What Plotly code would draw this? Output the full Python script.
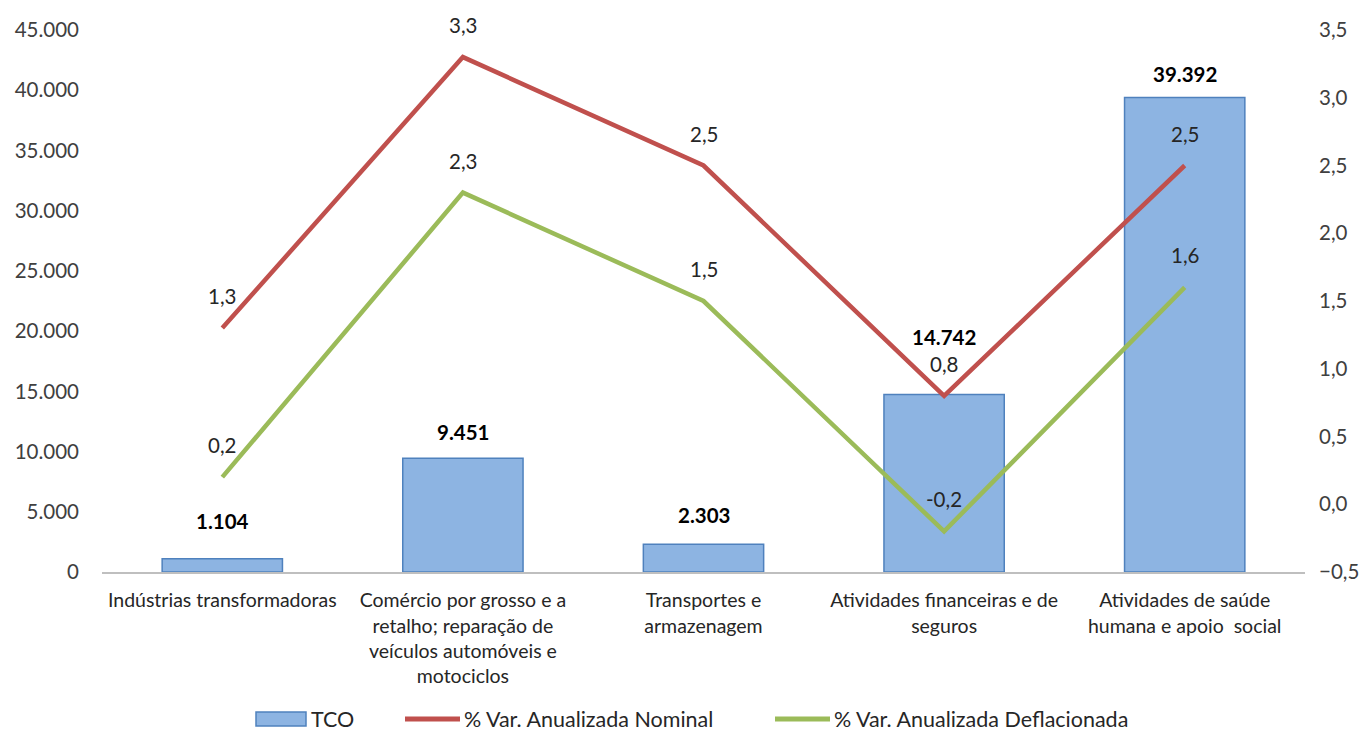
import plotly.graph_objects as go

categories = [
    "Indústrias transformadoras",
    "Comércio por grosso e a<br>retalho; reparação de<br>veículos automóveis e<br>motociclos",
    "Transportes e<br>armazenagem",
    "Atividades financeiras e de<br>seguros",
    "Atividades de saúde<br>humana e apoio  social",
]
tco = [1104, 9451, 2303, 14742, 39392]
var_nominal = [1.3, 3.3, 2.5, 0.8, 2.5]
var_deflacionada = [0.2, 2.3, 1.5, -0.2, 1.6]
series_names = ["TCO", "% Var. Anualizada Nominal", "% Var. Anualizada Deflacionada"]

left_ticks = [0, 5000, 10000, 15000, 20000, 25000, 30000, 35000, 40000, 45000]
right_ticks = [-0.5, 0.0, 0.5, 1.0, 1.5, 2.0, 2.5, 3.0, 3.5]

# label offsets (pixels above marks)
bar_label_shift = [38, 26, 29, 57, 24]
line_label_shift = 32

FONT = "Lato"
BAR_FILL, BAR_LINE = "#8DB4E2", "#4F81BD"
RED, GREEN = "#C0504D", "#9BBB59"
x_idx = list(range(len(categories)))

# page body has an 8px margin; plot area target (page px): x 102-1305, y 30-572
W, H = 1359, 723
ML, MT, MR, MB = 94, 22, 62, 159
PLOT_W = W - ML - MR
PLOT_H = H - MT - MB


def px_x(px):
    return (px - 8 - ML) / PLOT_W


def px_y(py):
    return (H - MB - (py - 8)) / PLOT_H


def fmt_int(v):
    return f"{v:,}".replace(",", ".")


def fmt_dec(v):
    return f"{v:.1f}".replace(".", ",")


fig = go.Figure()
fig.add_trace(go.Bar(
    x=x_idx, y=tco, name=series_names[0], showlegend=False,
    marker=dict(color=BAR_FILL, line=dict(color=BAR_LINE, width=1.5)),
    yaxis="y",
))
fig.add_trace(go.Scatter(
    x=x_idx, y=var_nominal, name=series_names[1], showlegend=False,
    mode="lines", line=dict(color=RED, width=4.5), yaxis="y2",
))
fig.add_trace(go.Scatter(
    x=x_idx, y=var_deflacionada, name=series_names[2], showlegend=False,
    mode="lines", line=dict(color=GREEN, width=4.5), yaxis="y2",
))

annotations = []
for i, v in enumerate(tco):
    annotations.append(dict(
        x=i, y=v, xref="x", yref="y", text=f"<b>{fmt_int(v)}</b>",
        showarrow=False, yshift=bar_label_shift[i],
        font=dict(family=FONT, size=20.5, color="#000000"),
    ))
for series in (var_nominal, var_deflacionada):
    for i, v in enumerate(series):
        annotations.append(dict(
            x=i, y=v, xref="x", yref="y2", text=fmt_dec(v),
            showarrow=False, yshift=line_label_shift,
            font=dict(family=FONT, size=20.5, color="#262626"),
        ))

# custom legend (bottom)
leg_y = px_y(719)
shapes = [
    dict(type="rect", xref="paper", yref="paper",
         x0=px_x(256), x1=px_x(306), y0=px_y(726), y1=px_y(712),
         fillcolor=BAR_FILL, line=dict(color=BAR_LINE, width=1.5)),
    dict(type="line", xref="paper", yref="paper",
         x0=px_x(405), x1=px_x(460), y0=leg_y, y1=leg_y,
         line=dict(color=RED, width=5)),
    dict(type="line", xref="paper", yref="paper",
         x0=px_x(775), x1=px_x(830), y0=leg_y, y1=leg_y,
         line=dict(color=GREEN, width=5)),
]
for name, xpx in zip(series_names, [309, 462, 832]):
    annotations.append(dict(
        x=px_x(xpx), y=leg_y, xref="paper", yref="paper", text=name,
        xanchor="left", yanchor="middle", showarrow=False,
        font=dict(family=FONT, size=21.5, color="#262626"),
    ))

fig.update_layout(
    width=W, height=H,
    margin=dict(l=ML, r=MR, t=MT, b=MB, autoexpand=False),
    paper_bgcolor="white", plot_bgcolor="white",
    separators=",.",
    bargap=0.5,
    showlegend=False,
    font=dict(family=FONT, size=19, color="#404040"),
    xaxis=dict(
        tickmode="array", tickvals=x_idx, ticktext=categories,
        range=[-0.5, len(categories) - 0.5],
        showline=True, linecolor="#BFBFBF", linewidth=1.5,
        showgrid=False, ticks="", ticklabelstandoff=10, automargin=False,
        tickfont=dict(family=FONT, size=19.5, color="#262626"),
    ),
    yaxis=dict(
        range=[0, 45000], tickmode="array", tickvals=left_ticks,
        tickformat=",d", showgrid=False, zeroline=False, showline=False,
        ticks="", ticklabelstandoff=22, automargin=False,
        tickfont=dict(family=FONT, size=20.5, color="#404040"),
    ),
    yaxis2=dict(
        range=[-0.5, 3.5], tickmode="array", tickvals=right_ticks,
        tickformat=".1f", overlaying="y", side="right",
        showgrid=False, zeroline=False, showline=False, ticks="",
        ticklabelstandoff=13, automargin=False,
        tickfont=dict(family=FONT, size=20.5, color="#404040"),
    ),
    shapes=shapes,
    annotations=annotations,
)

fig.write_html("out.html")
